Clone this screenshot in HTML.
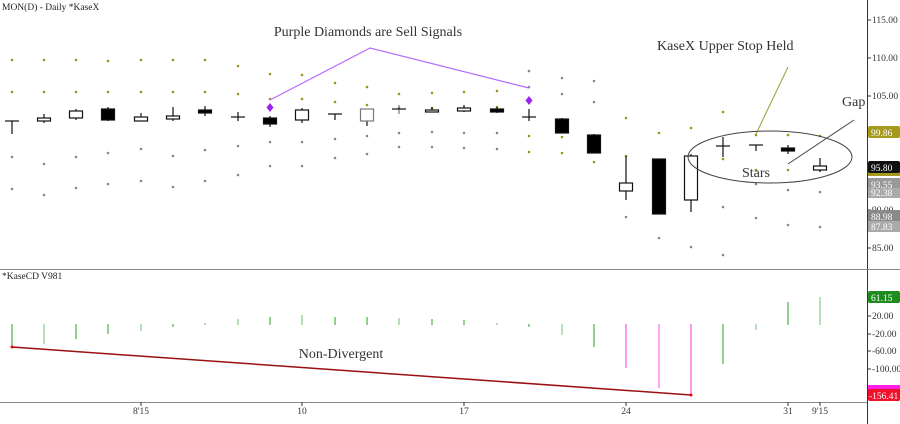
<!DOCTYPE html>
<html><head><meta charset="utf-8"><style>
html,body{margin:0;padding:0;background:#fff;}
svg{display:block;font-family:"Liberation Serif",serif;}
</style></head><body>
<svg width="900" height="424" viewBox="0 0 900 424" xmlns="http://www.w3.org/2000/svg">
<rect width="900" height="424" fill="#fff"/>
<!-- frame -->
<line x1="867.5" y1="0" x2="867.5" y2="424" stroke="#333" stroke-width="1"/>
<line x1="0" y1="269.5" x2="900" y2="269.5" stroke="#888" stroke-width="1"/>
<line x1="0" y1="402.5" x2="867" y2="402.5" stroke="#888" stroke-width="1"/>
<text x="2" y="10" font-size="9.5" fill="#222">MON(D) - Daily  *KaseX</text>
<text x="2" y="279" font-size="9.5" fill="#222">*KaseCD  V981</text>

<!-- price axis -->
<g font-size="9.5" fill="#333">
<line x1="867" y1="20" x2="871" y2="20" stroke="#333"/><text x="872" y="23">115.00</text>
<line x1="867" y1="58" x2="871" y2="58" stroke="#333"/><text x="872" y="61">110.00</text>
<line x1="867" y1="96" x2="871" y2="96" stroke="#333"/><text x="872" y="99">105.00</text>
<line x1="867" y1="210" x2="871" y2="210" stroke="#333"/><text x="872" y="213">90.00</text>
<line x1="867" y1="248" x2="871" y2="248" stroke="#333"/><text x="872" y="251">85.00</text>
<line x1="867" y1="316" x2="871" y2="316" stroke="#333"/><text x="872" y="319">20.00</text>
<line x1="867" y1="334" x2="871" y2="334" stroke="#333"/><text x="872" y="337">-20.00</text>
<line x1="867" y1="351" x2="871" y2="351" stroke="#333"/><text x="872" y="354">-60.00</text>
<line x1="867" y1="369" x2="871" y2="369" stroke="#333"/><text x="872" y="372">-100.00</text>
</g>
<g font-size="9.5" fill="#fff">
<rect x="868" y="126" width="32" height="12" rx="2" fill="#a59a1e"/><text x="871" y="136">99.86</text>
<rect x="868" y="168" width="32" height="8" fill="#a59a1e"/>
<rect x="868" y="161" width="32" height="12" rx="2" fill="#111"/><text x="871" y="171">95.80</text>
<rect x="868" y="178" width="32" height="12" fill="#999"/><text x="871" y="188">93.55</text>
<rect x="868" y="188" width="32" height="10" fill="#aaa"/><text x="871" y="196">92.38</text>
<rect x="868" y="210" width="32" height="12" fill="#8a8a8a"/><text x="871" y="220">88.98</text>
<rect x="868" y="221" width="32" height="11" fill="#aaa"/><text x="871" y="230">87.83</text>
<rect x="868" y="291" width="32" height="12" rx="2" fill="#1f8c1f"/><text x="871" y="301">61.15</text>
<rect x="868" y="385" width="32" height="8" fill="#ff1fe0"/>
<rect x="868" y="389" width="32" height="12" rx="2" fill="#f0102a"/><text x="869" y="399">-156.41</text>
</g>

<!-- x axis -->
<g font-size="9.5" fill="#333" text-anchor="middle">
<line x1="141" y1="402" x2="141" y2="406" stroke="#333"/><text x="141" y="414">8'15</text>
<line x1="302" y1="402" x2="302" y2="406" stroke="#333"/><text x="302" y="414">10</text>
<line x1="464" y1="402" x2="464" y2="406" stroke="#333"/><text x="464" y="414">17</text>
<line x1="626" y1="402" x2="626" y2="406" stroke="#333"/><text x="626" y="414">24</text>
<line x1="788" y1="402" x2="788" y2="406" stroke="#333"/><text x="788" y="414">31</text>
<line x1="820" y1="402" x2="820" y2="406" stroke="#333"/><text x="820" y="414">9'15</text>
</g>

<!-- dots -->
<g fill="#a09312">
<circle cx="12" cy="60" r="1.3"/><circle cx="12" cy="92" r="1.3"/>
<circle cx="44" cy="60" r="1.3"/><circle cx="44" cy="92" r="1.3"/>
<circle cx="76" cy="60" r="1.3"/><circle cx="76" cy="92" r="1.3"/>
<circle cx="108" cy="61" r="1.3"/><circle cx="108" cy="92" r="1.3"/>
<circle cx="141" cy="60" r="1.3"/><circle cx="141" cy="92" r="1.3"/>
<circle cx="173" cy="60" r="1.3"/><circle cx="173" cy="92" r="1.3"/>
<circle cx="205" cy="60" r="1.3"/><circle cx="205" cy="92" r="1.3"/>
<circle cx="238" cy="66" r="1.3"/><circle cx="238" cy="94" r="1.3"/>
<circle cx="270" cy="74" r="1.3"/><circle cx="270" cy="99" r="1.3"/>
<circle cx="302" cy="75" r="1.3"/><circle cx="302" cy="99" r="1.3"/>
<circle cx="335" cy="83" r="1.3"/><circle cx="335" cy="102" r="1.3"/>
<circle cx="367" cy="87" r="1.3"/><circle cx="367" cy="105" r="1.3"/>
<circle cx="399" cy="94" r="1.3"/><circle cx="399" cy="108" r="1.3"/>
<circle cx="432" cy="93" r="1.3"/><circle cx="432" cy="108" r="1.3"/>
<circle cx="464" cy="92" r="1.3"/><circle cx="464" cy="108" r="1.3"/>
<circle cx="497" cy="91" r="1.3"/><circle cx="497" cy="107" r="1.3"/>
<circle cx="529" cy="136" r="1.3"/><circle cx="529" cy="152" r="1.3"/>
<circle cx="562" cy="137" r="1.3"/><circle cx="562" cy="153" r="1.3"/>
<circle cx="594" cy="141" r="1.3"/><circle cx="594" cy="162" r="1.3"/>
<circle cx="626" cy="118" r="1.3"/><circle cx="626" cy="156" r="1.3"/>
<circle cx="659" cy="133" r="1.3"/><circle cx="659" cy="170" r="1.3"/>
<circle cx="691" cy="128" r="1.3"/><circle cx="691" cy="167" r="1.3"/>
<circle cx="723" cy="112" r="1.3"/><circle cx="723" cy="159" r="1.3"/>
<circle cx="756" cy="135" r="1.3"/><circle cx="756" cy="170" r="1.3"/>
<circle cx="788" cy="135" r="1.3"/><circle cx="788" cy="170" r="1.3"/>
<circle cx="820" cy="136" r="1.3"/><circle cx="820" cy="170" r="1.3"/>
</g>
<g fill="#888">
<circle cx="12" cy="157" r="1.3"/><circle cx="12" cy="189" r="1.3"/>
<circle cx="44" cy="164" r="1.3"/><circle cx="44" cy="195" r="1.3"/>
<circle cx="76" cy="157" r="1.3"/><circle cx="76" cy="188" r="1.3"/>
<circle cx="108" cy="153" r="1.3"/><circle cx="108" cy="184" r="1.3"/>
<circle cx="141" cy="149" r="1.3"/><circle cx="141" cy="181" r="1.3"/>
<circle cx="173" cy="156" r="1.3"/><circle cx="173" cy="187" r="1.3"/>
<circle cx="205" cy="150" r="1.3"/><circle cx="205" cy="181" r="1.3"/>
<circle cx="238" cy="146" r="1.3"/><circle cx="238" cy="175" r="1.3"/>
<circle cx="270" cy="142" r="1.3"/><circle cx="270" cy="166" r="1.3"/>
<circle cx="302" cy="142" r="1.3"/><circle cx="302" cy="166" r="1.3"/>
<circle cx="335" cy="139" r="1.3"/><circle cx="335" cy="158" r="1.3"/>
<circle cx="367" cy="136" r="1.3"/><circle cx="367" cy="154" r="1.3"/>
<circle cx="399" cy="133" r="1.3"/><circle cx="399" cy="147" r="1.3"/>
<circle cx="432" cy="132" r="1.3"/><circle cx="432" cy="147" r="1.3"/>
<circle cx="464" cy="133" r="1.3"/><circle cx="464" cy="148" r="1.3"/>
<circle cx="497" cy="133" r="1.3"/><circle cx="497" cy="149" r="1.3"/>
<circle cx="529" cy="71" r="1.3"/><circle cx="529" cy="87" r="1.3"/>
<circle cx="562" cy="78" r="1.3"/><circle cx="562" cy="94" r="1.3"/>
<circle cx="594" cy="81" r="1.3"/><circle cx="594" cy="102" r="1.3"/>
<circle cx="626" cy="217" r="1.3"/>
<circle cx="659" cy="238" r="1.3"/>
<circle cx="691" cy="247" r="1.3"/>
<circle cx="723" cy="207" r="1.3"/><circle cx="723" cy="255" r="1.3"/>
<circle cx="756" cy="184" r="1.3"/><circle cx="756" cy="218" r="1.3"/>
<circle cx="788" cy="190" r="1.3"/><circle cx="788" cy="225" r="1.3"/>
<circle cx="820" cy="192" r="1.3"/><circle cx="820" cy="227" r="1.3"/>
</g>

<!-- candles -->
<g stroke="#111" stroke-width="1.2" fill="#fff">
<line x1="12" y1="121" x2="12" y2="134"/><line x1="5" y1="121" x2="19" y2="121"/>
<line x1="44" y1="114" x2="44" y2="123"/><rect x="37.5" y="118" width="13" height="3"/>
<line x1="76" y1="109" x2="76" y2="120"/><rect x="69.5" y="111" width="13" height="7"/>
<line x1="108" y1="107" x2="108" y2="121"/><rect x="101.5" y="109" width="13" height="11" fill="#000"/>
<line x1="141" y1="113" x2="141" y2="121"/><rect x="134.5" y="117" width="13" height="4"/>
<line x1="173" y1="107" x2="173" y2="121"/><rect x="166.5" y="116" width="13" height="3"/>
<line x1="205" y1="106" x2="205" y2="116"/><rect x="198.5" y="110" width="13" height="3" fill="#000"/>
<line x1="238" y1="112" x2="238" y2="121"/><line x1="231" y1="117" x2="245" y2="117"/>
<line x1="270" y1="116" x2="270" y2="127"/><rect x="263.5" y="118" width="13" height="6" fill="#000"/>
<line x1="302" y1="108" x2="302" y2="123"/><rect x="295.5" y="110" width="13" height="10"/>
<line x1="335" y1="114" x2="335" y2="120"/><line x1="328" y1="114" x2="342" y2="114"/>
<line x1="367" y1="121" x2="367" y2="126"/><rect x="360.5" y="109" width="13" height="12" stroke="#777"/>
<line x1="399" y1="105" x2="399" y2="114" stroke="#777"/><line x1="392" y1="109" x2="406" y2="109"/>
<line x1="432" y1="107" x2="432" y2="112"/><rect x="425.5" y="110" width="13" height="2"/>
<line x1="464" y1="105" x2="464" y2="112"/><rect x="457.5" y="108" width="13" height="3"/>
<line x1="497" y1="107" x2="497" y2="113"/><rect x="490.5" y="109" width="13" height="3" fill="#000"/>
<line x1="529" y1="109" x2="529" y2="121"/><line x1="522" y1="117" x2="536" y2="117"/>
<line x1="562" y1="118" x2="562" y2="133"/><rect x="555.5" y="119" width="13" height="14" fill="#000"/>
<line x1="594" y1="134" x2="594" y2="153"/><rect x="587.5" y="135" width="13" height="18" fill="#000"/>
<line x1="626" y1="156" x2="626" y2="200"/><rect x="619.5" y="183" width="13" height="8"/>
<rect x="652.5" y="159" width="13" height="55" fill="#000"/>
<line x1="691" y1="154" x2="691" y2="212"/><rect x="684.5" y="156" width="13" height="44"/>
<line x1="723" y1="137" x2="723" y2="157"/><line x1="716" y1="146" x2="730" y2="146"/>
<line x1="756" y1="145" x2="756" y2="151"/><line x1="749" y1="145" x2="763" y2="145"/>
<line x1="788" y1="145" x2="788" y2="154"/><rect x="781.5" y="148" width="13" height="3" fill="#000"/>
<line x1="820" y1="158" x2="820" y2="172"/><rect x="813.5" y="166" width="13" height="4"/>
</g>

<!-- sell signals & annotations -->
<polyline points="270,100 370,48 529,88" fill="none" stroke="#b36bff" stroke-width="1.2"/>
<path d="M270,103 l3.5,4.5 l-3.5,4.5 l-3.5,-4.5z" fill="#a020f0"/>
<path d="M529,96 l3.5,4.5 l-3.5,4.5 l-3.5,-4.5z" fill="#a020f0"/>
<text x="368" y="36" font-size="14" fill="#333" text-anchor="middle">Purple Diamonds are Sell Signals</text>
<text x="657" y="50" font-size="14" fill="#333">KaseX Upper Stop Held</text>
<line x1="788" y1="67" x2="756" y2="134" stroke="#a09a30" stroke-width="1"/>
<text x="842" y="106" font-size="14" fill="#333">Gap</text>
<line x1="854" y1="120" x2="788" y2="164" stroke="#444" stroke-width="1"/>
<ellipse cx="770" cy="157" rx="82" ry="26" fill="none" stroke="#444" stroke-width="1"/>
<text x="756" y="177" font-size="14" fill="#333" text-anchor="middle">Stars</text>

<!-- CD histogram -->
<g stroke="#2aa02a" stroke-width="1">
<line x1="12" y1="324" x2="12" y2="346"/>
<line x1="44" y1="324" x2="44" y2="344" stroke="#6cbf6c"/>
<line x1="76" y1="324" x2="76" y2="339"/>
<line x1="108" y1="324" x2="108" y2="334"/>
<line x1="141" y1="324" x2="141" y2="331" stroke="#6cbf6c"/>
<line x1="173" y1="324" x2="173" y2="327"/>
<line x1="205" y1="323" x2="205" y2="325" stroke="#6cbf6c"/>
<line x1="238" y1="319" x2="238" y2="325" stroke="#6cbf6c"/>
<line x1="270" y1="317" x2="270" y2="325"/>
<line x1="302" y1="315" x2="302" y2="325" stroke="#6cbf6c"/>
<line x1="335" y1="317" x2="335" y2="325"/>
<line x1="367" y1="317" x2="367" y2="325"/>
<line x1="399" y1="318" x2="399" y2="325" stroke="#6cbf6c"/>
<line x1="432" y1="319" x2="432" y2="325"/>
<line x1="464" y1="320" x2="464" y2="325"/>
<line x1="497" y1="323" x2="497" y2="325" stroke="#6cbf6c"/>
<line x1="529" y1="324" x2="529" y2="327"/>
<line x1="562" y1="324" x2="562" y2="335" stroke="#6cbf6c"/>
<line x1="594" y1="324" x2="594" y2="347"/>
<line x1="723" y1="324" x2="723" y2="364"/>
<line x1="756" y1="324" x2="756" y2="330" stroke="#6cbf6c"/>
<line x1="788" y1="302" x2="788" y2="325"/>
<line x1="820" y1="297" x2="820" y2="325" stroke="#6cbf6c"/>
</g>
<line x1="626" y1="324" x2="626" y2="368" stroke="#ff33dd" stroke-width="1"/>
<line x1="659" y1="324" x2="659" y2="388" stroke="#ff88ee" stroke-width="1.5"/>
<line x1="691" y1="324" x2="691" y2="395" stroke="#ff33dd" stroke-width="1"/>
<line x1="12" y1="347" x2="691" y2="395" stroke="#9b1010" stroke-width="1.5"/>
<circle cx="12" cy="347" r="1.5" fill="#f00"/><circle cx="691" cy="395" r="1.5" fill="#f00"/>
<text x="341" y="358" font-size="14" fill="#333" text-anchor="middle">Non-Divergent</text>
</svg>
</body></html>
